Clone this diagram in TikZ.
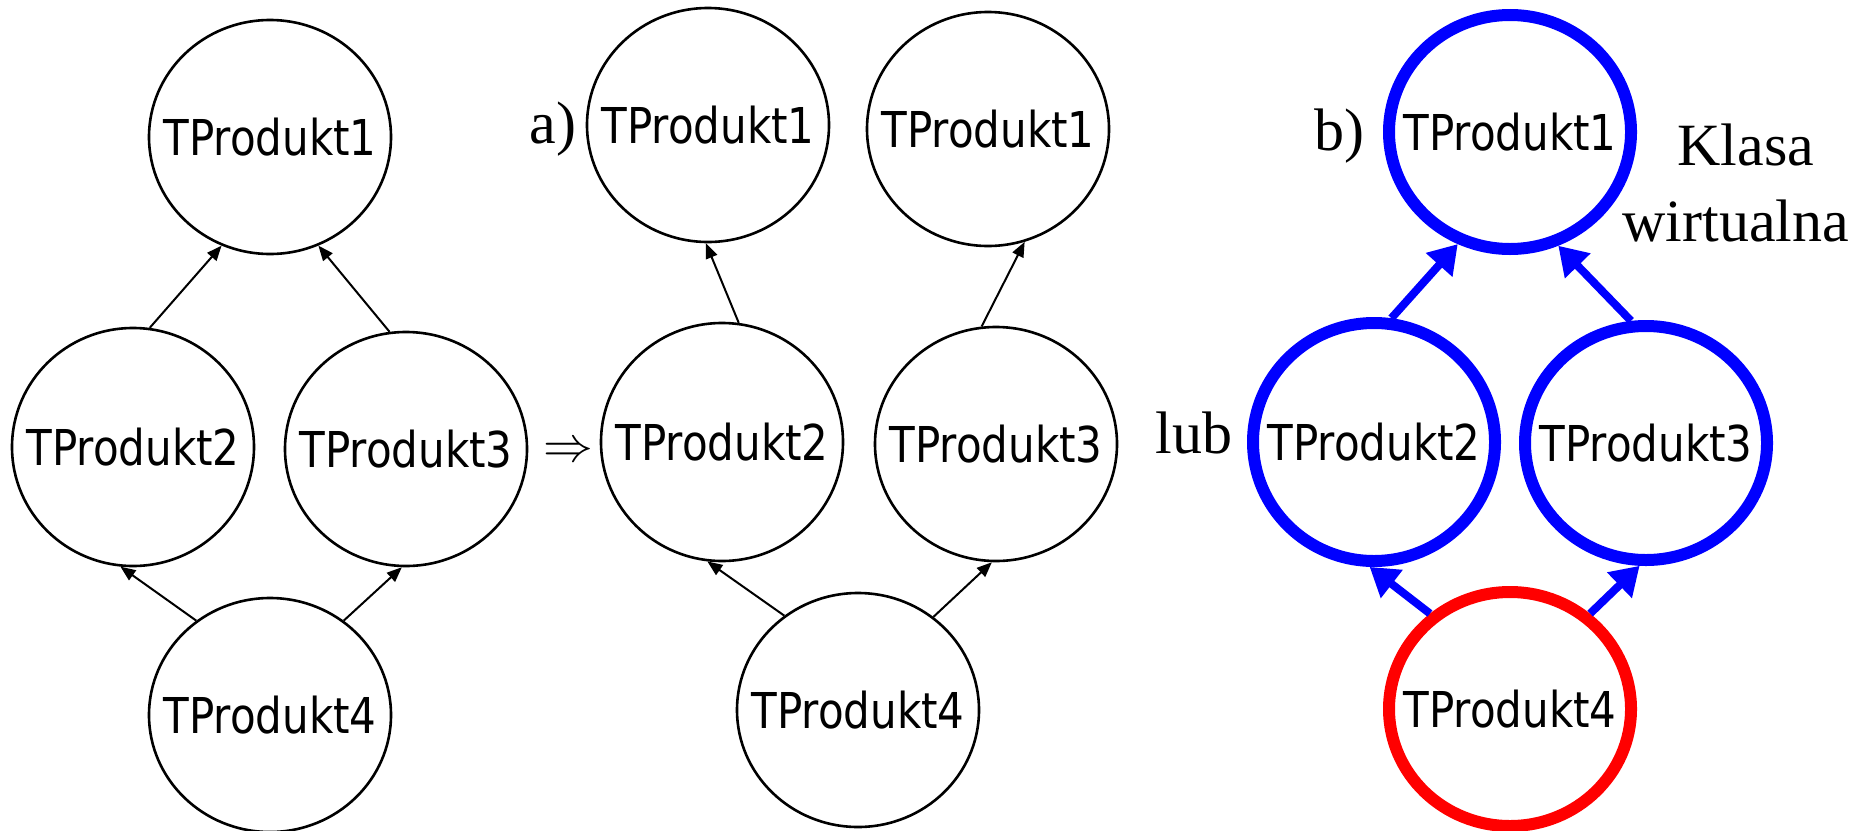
\documentclass[tikz,border=0pt]{standalone}
\usepackage{fontspec}
\usetikzlibrary{arrows.meta,shapes.geometric}
\newfontfamily\nodefont[FakeStretch=0.85]{DejaVu Sans}
\newfontfamily\labelfont{Liberation Serif}
\definecolor{pblue}{RGB}{0,0,255}
\definecolor{pred}{RGB}{255,0,0}
\begin{document}
\begin{tikzpicture}[x=0.5pt,y=-0.5pt,
  clsfont/.style={font=\nodefont\fontsize{24.7}{28}\selectfont, inner sep=0pt},
  cls/.style={ellipse, draw=black, line width=1.3pt, minimum width=121pt,
    minimum height=117pt, inner sep=0pt, label={[clsfont]center:#1}},
  tall/.style={minimum height=119pt},
  bcls/.style={cls=#1, draw=pblue, line width=6pt},
  rcls/.style={cls=#1, draw=pred, line width=6pt},
  thin/.style={line width=1pt, -{Triangle[length=7.5pt,width=6pt]}},
  thick/.style={draw=pblue, line width=4pt, -{Triangle[length=14pt,width=17pt]}},
  txt/.style={font=\labelfont\fontsize{30}{36}\selectfont, inner sep=0pt, anchor=base west}
]
\useasboundingbox (0,0) rectangle (1872,830);

% left group
\node[cls=TProdukt1] (l1) at (270,137) {};
\node[cls=TProdukt2, tall] (l2) at (133,447) {};
\node[cls=TProdukt3] (l3) at (406,449) {};
\node[cls=TProdukt4] (l4) at (270,715) {};
\draw[thin] (l2.82.6) -- (l1.246);
\draw[thin] (l3.98) -- (l1.294);
\draw[thin] (l4.128) -- (l2.264);
\draw[thin] (l4.52) -- (l3.268.5);

\node[font=\fontsize{23.5}{28}\selectfont, inner sep=0pt] (impl) at (568,452) {$\Rightarrow$};

% middle group (a)
\node[txt] (la) at (529,143) {a)};
\node[cls=TProdukt1] (m1a) at (708,125) {};
\node[cls=TProdukt1] (m1b) at (988,129) {};
\node[cls=TProdukt2, tall] (m2) at (722,442) {};
\node[cls=TProdukt3] (m3) at (996,444) {};
\node[cls=TProdukt4] (m4) at (858,710) {};
\draw[thin] (m2.82.5) -- (m1a.269.5);
\draw[thin] (m3.97) -- (m1b.288);
\draw[thin] (m4.128) -- (m2.263.5);
\draw[thin] (m4.51) -- (m3.268.5);

% right group (b)
\node[txt] (lb) at (1314,150) {b)};
\node[txt] (lub) at (1155,453) {lub};
\node[txt] (kl1) at (1677,165) {Klasa};
\node[txt] (kl2) at (1622,241) {wirtualna};
\node[bcls=TProdukt1] (r1) at (1510,132) {};
\node[bcls=TProdukt2, tall] (r2) at (1374,442) {};
\node[bcls=TProdukt3] (r3) at (1646,443) {};
\node[rcls=TProdukt4] (r4) at (1510,709) {};
\draw[thick] (r2.82.5) -- (r1.245);
\draw[thick] (r3.97) -- (r1.293);
\draw[thick] (r4.130) -- (r2.268);
\draw[thick] (r4.50.4) -- (r3.267);
\end{tikzpicture}
\end{document}
